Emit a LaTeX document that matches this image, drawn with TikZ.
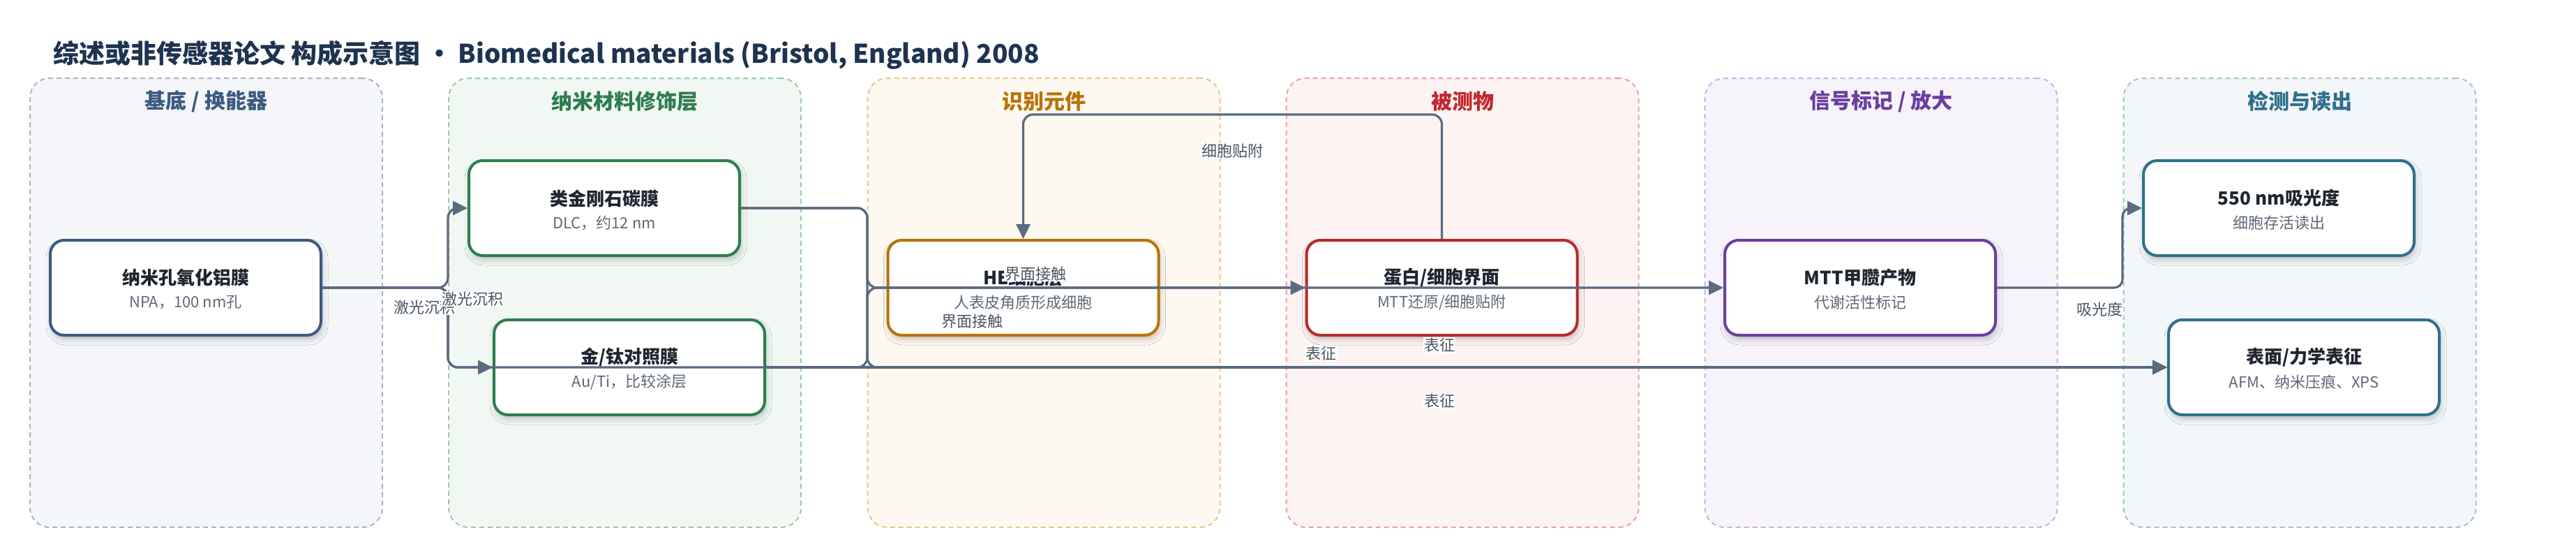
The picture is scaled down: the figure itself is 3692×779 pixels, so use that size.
\documentclass[tikz,border=0pt]{standalone}
\usepackage{fontspec}
\setmainfont{Noto Sans CJK SC}
\usetikzlibrary{arrows.meta,calc,shadows.blur}
\definecolor{titlec}{HTML}{1E3350}
\definecolor{edgec}{HTML}{5A6A80}
\definecolor{labc}{HTML}{4B5563}
\definecolor{inkc}{HTML}{1F2630}
\definecolor{subc}{HTML}{5F6877}
\definecolor{fillA}{HTML}{F4F6FA}\definecolor{bordA}{HTML}{A8B4C8}\definecolor{colA}{HTML}{3D5A80}
\definecolor{fillB}{HTML}{F1F8F3}\definecolor{bordB}{HTML}{9CCAA8}\definecolor{colB}{HTML}{2E7D4F}
\definecolor{fillC}{HTML}{FDF8F0}\definecolor{bordC}{HTML}{E8C68C}\definecolor{colC}{HTML}{B8730A}
\definecolor{fillD}{HTML}{FDF3F3}\definecolor{bordD}{HTML}{E8A2A2}\definecolor{colD}{HTML}{B82A2A}\definecolor{headD}{HTML}{C0282B}
\definecolor{fillE}{HTML}{F7F3FB}\definecolor{bordE}{HTML}{C8B4E2}\definecolor{colE}{HTML}{6B3FA0}
\definecolor{fillF}{HTML}{F3F7F9}\definecolor{bordF}{HTML}{A5C3CF}\definecolor{colF}{HTML}{2F6F8C}
\begin{document}
\begin{tikzpicture}[x=1pt,y=-1pt,
  lanebox/.style n args={2}{draw=#1, fill=#2, dash pattern=on 7pt off 5pt, line width=2pt,
      rounded corners=28pt, minimum width=505pt, minimum height=643pt, inner sep=0pt},
  lanehead/.style={font=\bfseries\fontsize{30}{36}\selectfont, text=#1, inner sep=0pt},
  procbox/.style={draw=#1, line width=4pt, fill=white, rounded corners=20pt,
      minimum width=388pt, minimum height=136pt, inner sep=0pt,
      blur shadow={shadow xshift=2pt, shadow yshift=-6pt, shadow blur radius=8pt, shadow opacity=22}},
  ttl/.style={font=\bfseries\fontsize{26}{30}\selectfont, text=inkc, inner sep=0pt},
  sub/.style={font=\fontsize{22}{26}\selectfont, text=subc, inner sep=0pt},
  conn/.style={draw=edgec, line width=3.2pt, rounded corners=14pt,
      -{Triangle[length=21pt,width=20pt]}},
  lbl/.style={fill=white, text=labc, font=\fontsize{22}{26}\selectfont, inner sep=1pt}]
\useasboundingbox (0,0) rectangle (3692,779);

% title
\node[anchor=base west, font=\bfseries\fontsize{37}{44}\selectfont, text=titlec, inner sep=0pt]
  (title) at (76,90) {综述或非传感器论文 构成示意图 • Biomedical materials (Bristol, England) 2008};

% lanes
\node[lanebox={bordA}{fillA}] (laneA) at (295.5,433.5) {};
\node[lanebox={bordB}{fillB}] (laneB) at (895.5,433.5) {};
\node[lanebox={bordC}{fillC}] (laneC) at (1496,433.5) {};
\node[lanebox={bordD}{fillD}] (laneD) at (2096,433.5) {};
\node[lanebox={bordE}{fillE}] (laneE) at (2696,433.5) {};
\node[lanebox={bordF}{fillF}] (laneF) at (3296,433.5) {};
\node[lanehead=colA] (hA) at (295.5,145) {基底 / 换能器};
\node[lanehead=colB] (hB) at (895.5,145) {纳米材料修饰层};
\node[lanehead=colC] (hC) at (1496,145) {识别元件};
\node[lanehead=headD] (hD) at (2096,145) {被测物};
\node[lanehead=colE] (hE) at (2696,145) {信号标记 / 放大};
\node[lanehead=colF] (hF) at (3296,145) {检测与读出};

% boxes
\node[procbox=colA] (npa) at (266,412) {};
\node[procbox=colB] (dlc) at (866,298) {};
\node[procbox=colB] (auti) at (902,526) {};
\node[procbox=colC] (he) at (1466.5,412) {};
\node[procbox=colD] (prot) at (2066.5,412) {};
\node[procbox=colE] (mtt) at (2666,412) {};
\node[procbox=colF] (absb) at (3266,298) {};
\node[procbox=colF] (surf) at (3302,526) {};

\node[ttl] (npaT) at ($(npa.center)+(0,-14)$) {纳米孔氧化铝膜};
\node[sub] (npaS) at ($(npa.center)+(0,21)$) {NPA，100 nm孔};
\node[ttl] (dlcT) at ($(dlc.center)+(0,-14)$) {类金刚石碳膜};
\node[sub] (dlcS) at ($(dlc.center)+(0,21)$) {DLC，约12 nm};
\node[ttl] (autiT) at ($(auti.center)+(0,-14)$) {金/钛对照膜};
\node[sub] (autiS) at ($(auti.center)+(0,21)$) {Au/Ti，比较涂层};
\node[ttl] (heT) at ($(he.center)+(0,-14)$) {HE细胞层};
\node[sub] (heS) at ($(he.center)+(0,21)$) {人表皮角质形成细胞};
\node[ttl] (protT) at ($(prot.center)+(0,-14)$) {蛋白/细胞界面};
\node[sub] (protS) at ($(prot.center)+(0,21)$) {MTT还原/细胞贴附};
\node[ttl] (mttT) at ($(mtt.center)+(0,-14)$) {MTT甲臜产物};
\node[sub] (mttS) at ($(mtt.center)+(0,21)$) {代谢活性标记};
\node[ttl] (absbT) at ($(absb.center)+(0,-14)$) {550 nm吸光度};
\node[sub] (absbS) at ($(absb.center)+(0,21)$) {细胞存活读出};
\node[ttl] (surfT) at ($(surf.center)+(0,-14)$) {表面/力学表征};
\node[sub] (surfS) at ($(surf.center)+(0,21)$) {AFM、纳米压痕、XPS};

% junction points
\coordinate (j1) at (642,412);
\coordinate (j2) at (1243,412);
\coordinate (j3) at (1243,526);
\coordinate (j4) at (3042,412);
\coordinate (top) at (1766,164);

% connectors
\draw[conn] (npa.east) -- (j1) |- (dlc.west);
\draw[conn] (npa.east) -- (j1) |- (auti.west);
\draw[conn] (npa.east) -- (j1) |- (surf.west);
\draw[conn] (dlc.east) -| (j2) -- (prot.west);
\draw[conn] (auti.east) -| (j2) -- (mtt.west);
\draw[conn] (dlc.east) -| (j3) -- (surf.west);
\draw[conn] (auti.east) -- (surf.west);
\draw[conn] (prot.north) |- (top) -| (he.north);
\draw[conn, rounded corners=12pt] (mtt.east) -- (j4) |- (absb.west);

% labels
\node[lbl] (l1) at (608,440) {激光沉积};
\node[lbl] (l2) at (677,428) {激光沉积};
\node[lbl] (l3) at (1484,392) {界面接触};
\node[lbl] (l4) at (1393,460) {界面接触};
\node[lbl] (l5) at (1893,506) {表征};
\node[lbl] (l6) at (2063,494) {表征};
\node[lbl] (l7) at (2063,574) {表征};
\node[lbl] (l8) at (1766,216) {细胞贴附};
\node[lbl] (l9) at (3009,443) {吸光度};
\end{tikzpicture}
\end{document}
